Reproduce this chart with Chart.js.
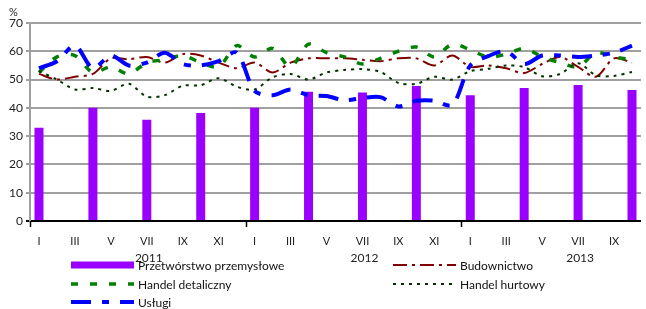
<!DOCTYPE html>
<html>
<head>
<meta charset="utf-8">
<script src="https://cdn.jsdelivr.net/npm/chart.js@4"></script>
<style>
  html, body { margin: 0; padding: 0; background: #fff; }
  #wrap { width: 646px; height: 309px; }
</style>
</head>
<body>
<div id="wrap"><canvas id="chart"></canvas></div>
<script>
// months Jan 2011 - Oct 2013, only odd months are labelled
const monthLabels = [
  'I', '', 'III', '', 'V', '', 'VII', '', 'IX', '', 'XI', '',
  'I', '', 'III', '', 'V', '', 'VII', '', 'IX', '', 'XI', '',
  'I', '', 'III', '', 'V', '', 'VII', '', 'IX', ''
];
const yearLabels = ['2011', '2012', '2013'];
const yearLabelIndex = [6, 18, 30];
const yearStartIndex = [0, 12, 24];

// quarterly survey (null where no reading)
const przetworstwo = [
  33.0, null, null, 40.0, null, null, 35.8, null, null, 38.2, null, null,
  40.0, null, null, 45.7, null, null, 45.4, null, null, 47.7, null, null,
  44.5, null, null, 47.0, null, null, 48.1, null, null, 46.3
];
const budownictwo = [
  52, 50, 51, 52, 57.5, 57.2, 58, 56, 59, 58.5, 56, 54,
  56, 52.5, 56, 57.5, 57.5, 57.5, 57, 56.5, 57.5, 57.5, 55, 58.5,
  54.5, 55, 54, 52.3, 55.5, 58, 54.5, 51, 57.5, 56
];
const handelDetaliczny = [
  52.5, 58, 58.5, 52.5, 54.5, 52, 56, 57, 58.5, 56, 54.5, 62,
  58, 61, 54.5, 62.5, 59.5, 58, 55.5, 57.5, 60, 61.5, 58, 62.5,
  60.5, 58, 59, 61, 58, 56, 54.5, 59.5, 58, 57
];
const handelHurtowy = [
  53, 50, 46.5, 47, 46, 48.5, 44, 44.5, 47.8, 48, 50.5, 47.5,
  46.5, 50.8, 52, 50, 52.5, 53.4, 53.7, 52.7, 48.8, 48.5, 51, 50,
  53, 53.8, 55, 54.4, 51.2, 52, 55.8, 51.5, 51.3, 52.7
];
const uslugi = [
  54, 56.5, 62, 54, 58.5, 55, 56, 59.5, 55.5, 55, 56.5, 59.5,
  46, 44.5, 46.5, 44.5, 44.2, 42.7, 43.5, 43.8, 40.5, 42.5, 42.5, 41,
  55, 58.3, 60, 55.5, 58.5, 58.5, 58, 58.5, 59.5, 62
];

const FONT = 'Lato, "Open Sans", sans-serif';

// legend laid out in two columns like the original
const legendOrder = [0, 1, 2, 3, 4];
const legendCols = [71, 393];
const legendRows = [265, 284, 302];

const extrasPlugin = {
  id: 'extras',
  afterDraw(chart) {
    const { ctx, chartArea } = chart;
    const x = chart.scales.x;
    const catW = x.getPixelForValue(1) - x.getPixelForValue(0);
    ctx.save();

    // % unit
    ctx.fillStyle = '#222';
    ctx.font = '11px ' + FONT;
    ctx.textAlign = 'left';
    ctx.textBaseline = 'middle';
    ctx.fillText('%', 9, 12);

    // year separator ticks
    ctx.strokeStyle = '#000';
    ctx.lineWidth = 1.5;
    yearStartIndex.forEach(i => {
      const px = Math.round(x.getPixelForValue(i) - catW / 2) + 0.5;
      ctx.beginPath();
      ctx.moveTo(px, chartArea.bottom);
      ctx.lineTo(px, chartArea.bottom + 6);
      ctx.stroke();
    });

    // year labels
    ctx.font = '12px ' + FONT;
    ctx.textAlign = 'center';
    yearLabels.forEach((t, k) => {
      ctx.fillText(t, x.getPixelForValue(yearLabelIndex[k]) + 2, 258);
    });

    // legend
    ctx.textAlign = 'left';
    legendOrder.forEach((di, k) => {
      const ds = chart.data.datasets[di];
      const lx = legendCols[k % 2];
      const ly = legendRows[Math.floor(k / 2)];
      const w = 63;
      if (ds.type === 'line') {
        ctx.strokeStyle = ds.borderColor;
        ctx.lineWidth = ds.borderWidth;
        ctx.setLineDash(ds.borderDash || []);
        ctx.beginPath();
        ctx.moveTo(lx, ly);
        ctx.lineTo(lx + w, ly);
        ctx.stroke();
        ctx.setLineDash([]);
      } else {
        ctx.fillStyle = ds.backgroundColor;
        ctx.fillRect(lx, ly - 3.5, w, 7);
      }
      ctx.fillStyle = '#111';
      ctx.fillText(ds.label, lx + w + 4, ly + 1);
    });
    ctx.restore();
  }
};

new Chart(document.getElementById('chart'), {
  type: 'bar',
  data: {
    labels: monthLabels,
    datasets: [
      {
        type: 'bar',
        label: 'Przetwórstwo przemysłowe',
        data: przetworstwo,
        backgroundColor: '#9900ff',
        barPercentage: 0.5,
        categoryPercentage: 1.0,
        order: 5
      },
      {
        type: 'line',
        label: 'Budownictwo',
        data: budownictwo,
        borderColor: '#800000',
        borderWidth: 2,
        borderDash: [14, 5, 3, 5],
        pointRadius: 0,
        tension: 0.3,
        fill: false,
        order: 4
      },
      {
        type: 'line',
        label: 'Handel detaliczny',
        data: handelDetaliczny,
        borderColor: '#008000',
        borderWidth: 3.5,
        borderDash: [7, 12],
        pointRadius: 0,
        tension: 0.3,
        fill: false,
        order: 3
      },
      {
        type: 'line',
        label: 'Handel hurtowy',
        data: handelHurtowy,
        borderColor: '#003300',
        borderWidth: 2,
        borderDash: [3, 5],
        pointRadius: 0,
        tension: 0.3,
        fill: false,
        order: 2
      },
      {
        type: 'line',
        label: 'Usługi',
        data: uslugi,
        borderColor: '#0000ff',
        borderWidth: 4,
        borderDash: [20, 11, 7, 11],
        pointRadius: 0,
        tension: 0.3,
        fill: false,
        order: 1
      }
    ]
  },
  options: {
    responsive: true,
    maintainAspectRatio: false,
    animation: false,
    layout: { padding: { top: 23, left: 0, right: 0, bottom: 0 } },
    plugins: {
      legend: { display: false },
      tooltip: { enabled: false }
    },
    scales: {
      x: {
        afterFit: s => { s.height = 88; },
        grid: { display: false, drawTicks: false },
        border: { display: true, color: '#000', width: 2 },
        ticks: {
          autoSkip: false,
          maxRotation: 0,
          minRotation: 0,
          padding: 14,
          color: '#222',
          font: { family: FONT, size: 11 }
        }
      },
      y: {
        min: 0,
        max: 70,
        afterFit: s => { s.width = 30; },
        grid: {
          color: c => (c.tick && c.tick.value === 0 ? '#000' : '#a0a0a0'),
          lineWidth: 2,
          tickLength: 4
        },
        border: { display: true, color: '#a0a0a0', width: 2 },
        ticks: {
          stepSize: 10,
          padding: 3,
          color: '#222',
          font: { family: FONT, size: 12 }
        }
      }
    }
  },
  plugins: [extrasPlugin]
});
</script>
</body>
</html>
